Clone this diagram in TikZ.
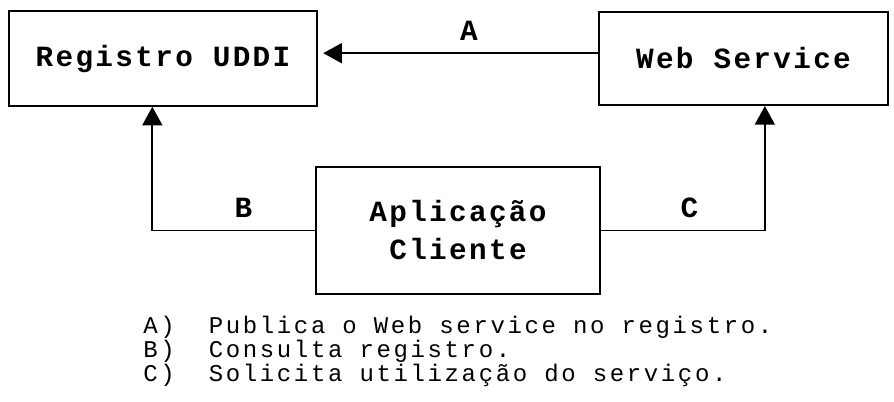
\documentclass[tikz,border=0pt]{standalone}
\usepackage{fontspec}
\setmonofont{Liberation Mono}[LetterSpace=11]
\newfontfamily\boxfont{Liberation Mono}[LetterSpace=8]
\usetikzlibrary{arrows.meta}

\begin{document}
\begin{tikzpicture}[
    x=0.75pt, y=-0.75pt,
    box/.style={draw=black, line width=1.3pt, inner sep=0pt, align=center, font=\boxfont\bfseries\fontsize{22}{28.5}\selectfont},
    msg/.style={-{Triangle[length=14pt, width=15pt]}, line width=1.3pt},
    tag/.style={inner sep=0pt, font=\boxfont\bfseries\fontsize{22}{25}\selectfont},
    legend/.style={inner sep=0pt, anchor=base west, font=\ttfamily\fontsize{18}{18}\selectfont}
]
\useasboundingbox (0,0) rectangle (894,401);

% Nodes
\node[box, minimum width=231pt, minimum height=71pt] (reg) at (163, 58.5) {Registro UDDI};
\node[box, minimum width=217pt, minimum height=70pt] (ws) at (743.5, 58.5) {Web Service};
\node[box, minimum width=213pt, minimum height=95pt] (app) at (458, 230.5) {Aplicação\\Cliente};

% Messages
\draw[msg] ([yshift=4pt]ws.west) -- node[tag, pos=0.47, above=9pt] (a) {A} ([xshift=4pt, yshift=4pt]reg.east);
\draw[msg] (app.west) -| node[tag, pos=0.22, above=9pt] (b) {B} ([xshift=-8pt]reg.south);
\draw[msg] (app.east) -| node[tag, pos=0.27, above=9pt] (c) {C} ([xshift=16pt]ws.south);

% Legend
\node[legend] (la) at (143, 333) {A)\ \ Publica o Web service no registro.};
\node[legend] (lb) at (143, 357) {B)\ \ Consulta registro.};
\node[legend] (lc) at (143, 381) {C)\ \ Solicita utilização do serviço.};

\end{tikzpicture}
\end{document}
